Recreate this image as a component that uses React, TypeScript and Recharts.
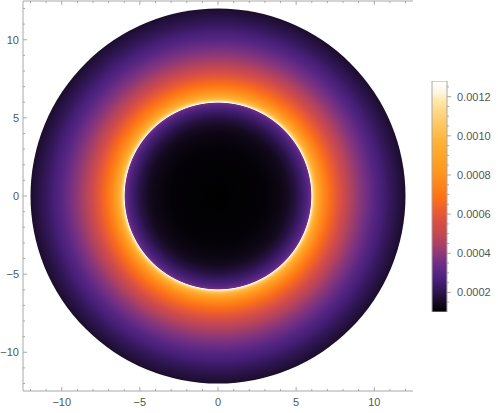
import React from "react";
import * as R from "recharts";

const { ScatterChart, Scatter, XAxis, YAxis, BarChart, Bar } = R as any;

// plot range (Mathematica pads the disk of radius 12 a little)
const plotDomain: [number, number] = [-12.48, 12.48];
const majorTicks = [-10, -5, 0, 5, 10];
const allTicks = [-12, -11, -10, -9, -8, -7, -6, -5, -4, -3, -2, -1, 0, 1, 2, 3, 4, 5, 6, 7, 8, 9, 10, 11, 12];

// radial profile of the density
const diskRadius = 12;
const profileRadius = [0, 3, 4, 4.5, 5, 5.5, 5.8, 5.95, 6, 6.05, 6.15, 6.3, 6.5, 6.8, 7.2, 7.6, 8, 8.5, 9, 9.5, 10, 10.5, 11, 11.5, 12];
const profileValue = [
  0.0001, 0.00011, 0.00013, 0.00015, 0.00019, 0.00025, 0.0003, 0.00035,
  0.00128, 0.00118, 0.00105, 0.00095, 0.00086, 0.00076, 0.00067, 0.0006,
  0.00053, 0.00046, 0.0004, 0.00035, 0.0003, 0.00026, 0.00022, 0.00019, 0.00016,
];

// legend
const legendRange: [number, number] = [0.0001, 0.00128];
const legendMajor = [0.0002, 0.0004, 0.0006, 0.0008, 0.001, 0.0012];
const legendTicks = [0.00015, 0.0002, 0.00025, 0.0003, 0.00035, 0.0004, 0.00045, 0.0005, 0.00055, 0.0006, 0.00065, 0.0007, 0.00075, 0.0008, 0.00085, 0.0009, 0.00095, 0.001, 0.00105, 0.0011, 0.00115, 0.0012, 0.00125];

// sunset-like colour scale
const scaleStops: [number, string][] = [
  [0, "#000000"],
  [0.04, "#150a20"],
  [0.087, "#2e1550"],
  [0.14, "#48207a"],
  [0.19, "#622a88"],
  [0.24, "#84357c"],
  [0.29, "#a84066"],
  [0.346, "#c8484e"],
  [0.39, "#d84e44"],
  [0.44, "#ec5e30"],
  [0.5, "#ff7212"],
  [0.55, "#ff8418"],
  [0.615, "#ff9820"],
  [0.68, "#ffa628"],
  [0.745, "#ffb438"],
  [0.81, "#ffc660"],
  [0.87, "#ffd888"],
  [0.92, "#ffeab0"],
  [0.95, "#fff6e0"],
  [1, "#ffffff"],
];

const FRAME = "#a8a8a8";
const LABEL = "#555555";
const FONT = "'Liberation Sans', Arial, sans-serif";

const hex = (c: string) => [1, 3, 5].map((i) => parseInt(c.slice(i, i + 2), 16));
const colorAt = (t: number) => {
  const u = Math.max(0, Math.min(1, t));
  for (let i = 1; i < scaleStops.length; i++) {
    const [t1, c1] = scaleStops[i];
    if (u <= t1) {
      const [t0, c0] = scaleStops[i - 1];
      const f = (u - t0) / (t1 - t0 || 1);
      const a = hex(c0), b = hex(c1);
      const m = a.map((v, k) => Math.round(v + (b[k] - v) * f));
      return `rgb(${m[0]},${m[1]},${m[2]})`;
    }
  }
  return "#ffffff";
};
const valueColor = (v: number) => colorAt((v - legendRange[0]) / (legendRange[1] - legendRange[0]));

const fmt = (v: number) => (v < 0 ? "\u2212" + Math.abs(v) : String(v));

function DensityDisk() {
  const plot = R.usePlotArea ? (R as any).usePlotArea() : undefined;
  if (!plot) return null;
  const span = plotDomain[1] - plotDomain[0];
  const sx = (v: number) => plot.x + ((v - plotDomain[0]) / span) * plot.width;
  const sy = (v: number) => plot.y + ((plotDomain[1] - v) / span) * plot.height;
  const cx = sx(0);
  const cy = sy(0);
  const rx = sx(diskRadius) - cx;
  const ry = cy - sy(diskRadius);
  return (
    <g>
      <defs>
        <radialGradient id="disk" gradientUnits="userSpaceOnUse" cx={cx} cy={cy} r={rx} fx={cx} fy={cy}>
          {profileRadius.map((r, i) => (
            <stop key={i} offset={r / diskRadius} stopColor={valueColor(profileValue[i])} />
          ))}
        </radialGradient>
      </defs>
      <ellipse cx={cx} cy={cy} rx={rx} ry={ry} fill="url(#disk)" />
    </g>
  );
}

const BottomTick = (p: any) => {
  const major = majorTicks.includes(p.payload.value);
  return (
    <g>
      <line x1={p.x} x2={p.x} y1={p.y} y2={p.y - (major ? 4 : 2)} stroke={FRAME} />
      {major && (
        <text x={p.x} y={p.y + 15} textAnchor="middle" fontSize={11} fontFamily={FONT} fill={LABEL}>
          {fmt(p.payload.value)}
        </text>
      )}
    </g>
  );
};
const TopTick = (p: any) => {
  const major = majorTicks.includes(p.payload.value);
  return <line x1={p.x} x2={p.x} y1={p.y} y2={p.y + (major ? 4 : 2)} stroke={FRAME} />;
};
const LeftTick = (p: any) => {
  const major = majorTicks.includes(p.payload.value);
  return (
    <g>
      <line x1={p.x} x2={p.x + (major ? 4 : 2)} y1={p.y} y2={p.y} stroke={FRAME} />
      {major && (
        <text x={p.x - 4} y={p.y + 4} textAnchor="end" fontSize={11} fontFamily={FONT} fill={LABEL}>
          {fmt(p.payload.value)}
        </text>
      )}
    </g>
  );
};
const RightTick = (p: any) => {
  const major = majorTicks.includes(p.payload.value);
  return <line x1={p.x} x2={p.x - (major ? 4 : 2)} y1={p.y} y2={p.y} stroke={FRAME} />;
};
const LegendTick = (p: any) => {
  const v = p.payload.value;
  const major = legendMajor.some((m) => Math.abs(m - v) < 1e-9);
  return (
    <g>
      <line x1={p.x} x2={p.x + (major ? 4 : 2)} y1={p.y} y2={p.y} stroke={FRAME} />
      {major && (
        <text x={p.x + 10} y={p.y + 4} textAnchor="start" fontSize={11} fontFamily={FONT} fill={LABEL}>
          {v.toFixed(4)}
        </text>
      )}
    </g>
  );
};

const centerPoint = [{ x: 0, y: 0 }];
const legendData = [{ name: "scale", range: legendRange }];

export default function App() {
  const axisCommon = {
    type: "number" as const,
    domain: plotDomain,
    allowDataOverflow: true,
    ticks: allTicks,
    interval: 0,
    tickSize: 0,
    tickMargin: 0,
    tickLine: false,
    axisLine: { stroke: FRAME },
  };
  return (
    <div style={{ position: "absolute", left: 0, top: 0, width: 498, height: 413, background: "#fff" }}>
      <div style={{ position: "absolute", left: 0, top: 0 }}>
        <ScatterChart width={420} height={413} margin={{ top: 0, right: 7, bottom: 0, left: 0 }}>
          <DensityDisk />
          <XAxis xAxisId="b" dataKey="x" orientation="bottom" height={22} tick={<BottomTick />} {...axisCommon} />
          <XAxis xAxisId="t" dataKey="x" orientation="top" height={1} tick={<TopTick />} {...axisCommon} />
          <YAxis yAxisId="l" dataKey="y" orientation="left" width={23} tick={<LeftTick />} {...axisCommon} />
          <YAxis yAxisId="r" dataKey="y" orientation="right" width={0} tick={<RightTick />} {...axisCommon} />
          <Scatter xAxisId="b" yAxisId="l" data={centerPoint} shape={() => null} isAnimationActive={false} />
          <Scatter xAxisId="t" yAxisId="r" data={centerPoint} shape={() => null} isAnimationActive={false} />
        </ScatterChart>
      </div>
      <div style={{ position: "absolute", left: 425, top: 0 }}>
        <BarChart width={73} height={413} data={legendData} margin={{ top: 81, right: 0, bottom: 101, left: 7 }} barCategoryGap={0}>
          <defs>
            <linearGradient id="legend" x1="0" y1="1" x2="0" y2="0">
              {scaleStops.map(([t, c], i) => (
                <stop key={i} offset={t} stopColor={c} />
              ))}
            </linearGradient>
          </defs>
          <XAxis dataKey="name" hide />
          <YAxis
            orientation="right"
            width={51}
            type="number"
            domain={legendRange}
            allowDataOverflow
            ticks={legendTicks}
            interval={0}
            tickSize={0}
            tickMargin={0}
            tickLine={false}
            axisLine={false}
            tick={<LegendTick />}
          />
          <Bar dataKey="range" fill="url(#legend)" stroke={FRAME} strokeWidth={1} isAnimationActive={false} />
        </BarChart>
      </div>
    </div>
  );
}
